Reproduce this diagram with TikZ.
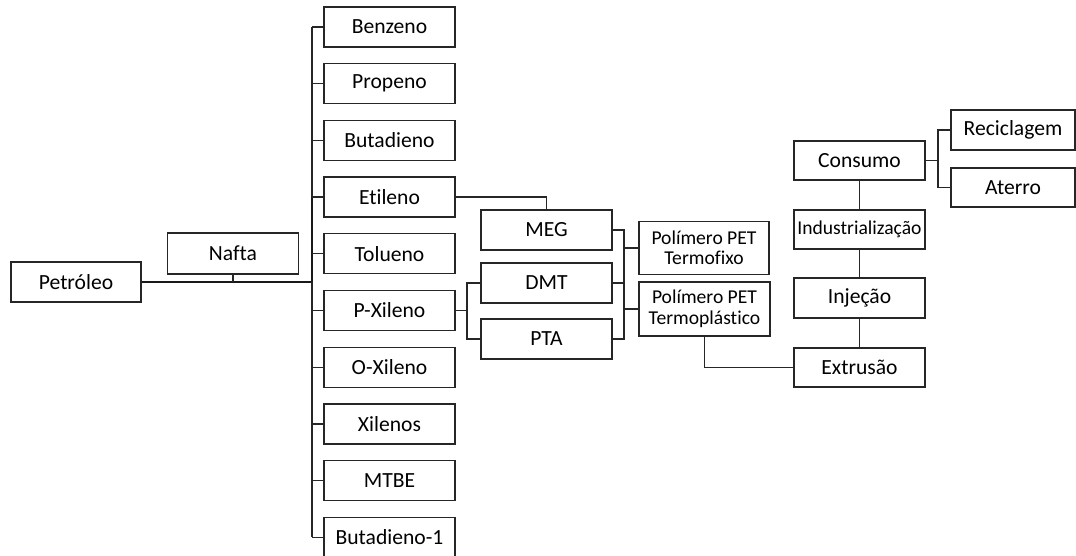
\documentclass[tikz,border=0pt]{standalone}
\usepackage{fontspec}
\setmainfont{Carlito}[Ligatures=NoCommon]
\usepackage{tikz}

\tikzset{
  etapa/.style={draw=black!85, line width=1.2pt, minimum width=131pt, minimum height=40pt,
    inner sep=0pt, text=black, font=\fontsize{21.6}{24}\selectfont},
  etapamenor/.style={etapa, align=center, font=\fontsize{19.6}{20.5}\selectfont},
  ligacao/.style={draw=black!85, line width=1.2pt},
  tronco/.style={draw=black!90, line width=2pt}
}

\begin{document}
\begin{tikzpicture}[x=1pt,y=-1pt]
\useasboundingbox (0,0) rectangle (1076,556);

% Origem
\node[etapa, minimum width=130pt] (petroleo) at (76,282) {Petróleo};
\node[etapa, minimum height=41pt] (nafta) at (233,253.5) {Nafta};

% Derivados da nafta
\foreach \nome/\texto [count=\i from 0] in {benzeno/Benzeno, propeno/Propeno,
    butadieno/Butadieno, etileno/Etileno, tolueno/Tolueno, pxileno/P-Xileno,
    oxileno/O-Xileno, xilenos/Xilenos, mtbe/MTBE, butadienoum/Butadieno-1}
  \node[etapa] (\nome) at (389.5,{27+56.7*\i}) {\texto};

% Intermediarios
\node[etapa] (meg) at (546.5,230) {MEG};
\node[etapa] (dmt) at (546.5,283) {DMT};
\node[etapa] (pta) at (546.5,339) {PTA};

% Polimeros
\node[etapamenor, minimum width=130pt, minimum height=53pt] (termofixo) at (704,248)
  {Polímero PET\\Termofixo};
\node[etapamenor, minimum height=54pt] (termoplastico) at (704.5,309)
  {Polímero PET\\Termoplástico};

% Processamento e destino
\node[etapa, minimum height=39pt] (consumo) at (859.5,160.5) {Consumo};
\node[etapamenor, minimum height=39pt] (industrializacao) at (859.5,229.5) {Industrialização};
\node[etapa] (injecao) at (859.5,298) {Injeção};
\node[etapa, minimum height=39pt] (extrusao) at (859.5,367.5) {Extrusão};
\node[etapa, minimum width=124pt] (reciclagem) at (1013,130) {Reciclagem};
\node[etapa, minimum width=124pt, minimum height=39pt] (aterro) at (1013,187.5) {Aterro};

% Tronco principal
\coordinate (barra) at (312,0);
\coordinate (juncao) at (nafta.south |- petroleo.east);
\draw[tronco] (petroleo.east) -- (barra |- petroleo.east);
\draw[ligacao] (nafta.south) -- (juncao);
\draw[ligacao] (barra |- benzeno.west) -- (barra |- butadienoum.west);
\draw[tronco] (barra |- etileno.west) -- (barra |- petroleo.east);
\foreach \nome in {benzeno, propeno, butadieno, etileno, tolueno, pxileno,
    oxileno, xilenos, mtbe, butadienoum}
  \draw[ligacao] (barra |- \nome.west) -- (\nome.west);

% Etileno e P-Xileno
\draw[ligacao] (etileno.east) -| (meg.north);
\coordinate (pxbase) at (467,0);
\coordinate (px) at (pxbase |- pxileno.east);
\draw[ligacao] (pxileno.east) -- (px);
\draw[ligacao] (dmt.west) -| (px) |- (pta.west);

% Para os polimeros
\coordinate (pol) at (624,0);
\draw[ligacao] (meg.east) -| (pol |- pta.east) -- (pta.east);
\draw[ligacao] (dmt.east) -- (pol |- dmt.east);
\draw[ligacao] (pol |- termofixo.west) -- (termofixo.west);
\draw[ligacao] (pol |- termoplastico.west) -- (termoplastico.west);

% Cadeia de processamento
\draw[ligacao] (termoplastico.south) |- (extrusao.west);
\draw[ligacao] (extrusao.north) -- (injecao.south);
\draw[ligacao] (injecao.north) -- (industrializacao.south);
\draw[ligacao] (industrializacao.north) -- (consumo.south);

% Destino final
\coordinate (destbase) at (938,0);
\coordinate (dest) at (destbase |- consumo.east);
\draw[ligacao] (consumo.east) -- (dest);
\draw[ligacao] (reciclagem.west) -| (dest) |- (aterro.west);

\end{tikzpicture}
\end{document}
